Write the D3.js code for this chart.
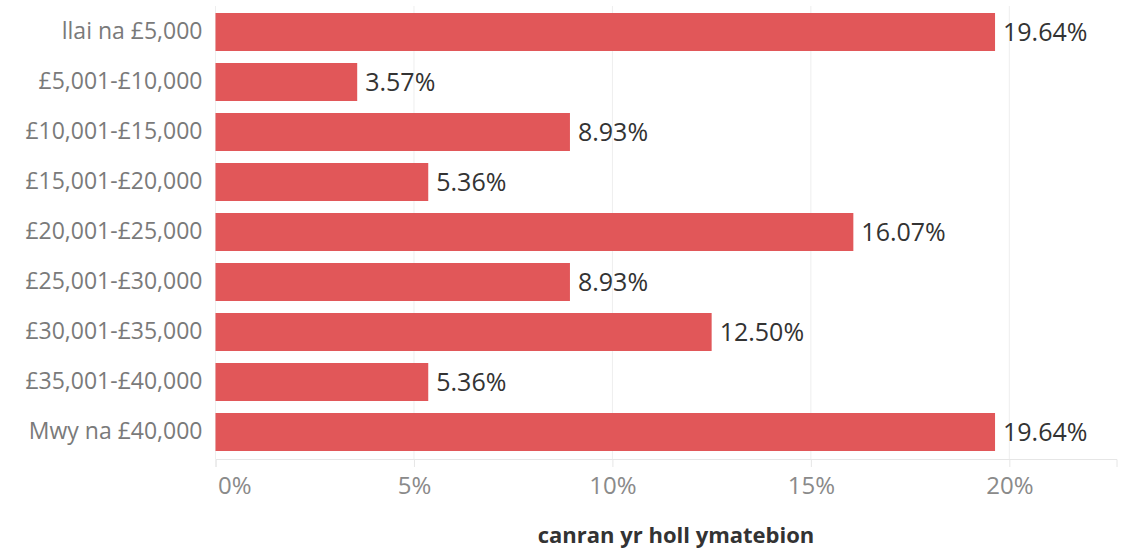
<!DOCTYPE html>
<html>
<head>
<meta charset="utf-8">
<script src="https://cdn.jsdelivr.net/npm/d3@7"></script>
<style>
  html, body { margin: 0; padding: 0; background: #fff; }
  svg { display: block; }
  text { font-family: "Open Sans", sans-serif; }
</style>
</head>
<body>
<svg id="chart" width="1130" height="549"></svg>
<script>
const categories = ["llai na £5,000", "£5,001-£10,000", "£10,001-£15,000", "£15,001-£20,000",
  "£20,001-£25,000", "£25,001-£30,000", "£30,001-£35,000", "£35,001-£40,000", "Mwy na £40,000"];
const values = [19.64, 3.57, 8.93, 5.36, 16.07, 8.93, 12.50, 5.36, 19.64];
const tickValues = [0, 5, 10, 15, 20];
const axisTitle = "canran yr holl ymatebion";

const svg = d3.select("#chart");
const x = d3.scaleLinear().domain([0, 22.7]).range([215.5, 1116.5]);
const y = d3.scaleBand().domain(categories).range([7, 457]).paddingInner(0.24).paddingOuter(0.12);

// gridlines
svg.append("g").selectAll("line").data(tickValues).join("line")
  .attr("x1", d => x(d)).attr("x2", d => x(d))
  .attr("y1", 6).attr("y2", 459)
  .attr("stroke", "#eeeeee").attr("stroke-width", 1);

// x axis
const xAxis = d3.axisBottom(x).tickValues(tickValues).tickFormat(d => d + "%").tickSize(8).tickPadding(10);
const gx = svg.append("g").attr("transform", "translate(0,459)").call(xAxis);
gx.select(".domain").attr("stroke", "#e6e6e6");
gx.selectAll(".tick line").attr("stroke", "#e6e6e6");
gx.selectAll(".tick text").attr("fill", "#8a8a8a").style("font-size", "24px")
  .style("font-family", "'Open Sans', sans-serif")
  .attr("text-anchor", d => d === 0 ? "start" : "middle")
  .attr("dx", d => d === 0 ? 2 : 0);

// y axis labels
const yAxis = d3.axisLeft(y).tickSize(0).tickPadding(13);
const gy = svg.append("g").attr("transform", "translate(215.5,0)").call(yAxis);
gy.select(".domain").remove();
gy.selectAll(".tick text").attr("fill", "#7a7a7a").style("font-size", "23px")
  .style("font-family", "'Open Sans', sans-serif");

// bars
svg.append("g").selectAll("rect").data(values).join("rect")
  .attr("x", x(0))
  .attr("y", (d, i) => y(categories[i]))
  .attr("width", d => x(d) - x(0))
  .attr("height", y.bandwidth())
  .attr("fill", "#e15759");

// value labels
svg.append("g").selectAll("text").data(values).join("text")
  .attr("x", d => x(d) + 8)
  .attr("y", (d, i) => y(categories[i]) + y.bandwidth() / 2)
  .attr("dy", "0.35em")
  .attr("fill", "#333333")
  .style("font-size", "25px")
  .text(d => d.toFixed(2) + "%");

// axis title
svg.append("text")
  .attr("x", 676).attr("y", 543)
  .attr("text-anchor", "middle")
  .attr("fill", "#333333")
  .style("font-size", "22px").style("font-weight", "bold")
  .text(axisTitle);
</script>
</body>
</html>
